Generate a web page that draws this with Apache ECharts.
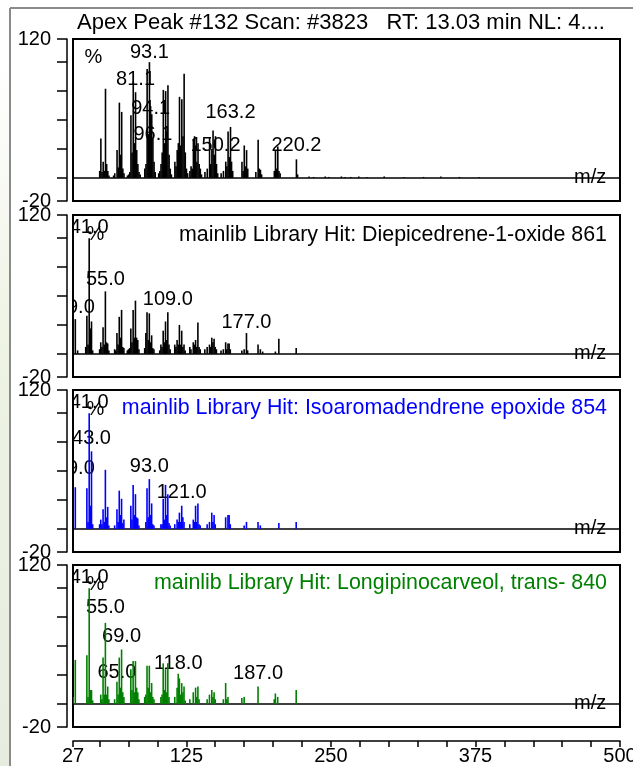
<!DOCTYPE html>
<html><head><meta charset="utf-8">
<script src="https://cdn.jsdelivr.net/npm/echarts@6/dist/echarts.min.js"></script>
<style>html,body{margin:0;padding:0;background:#fff}#c{width:633px;height:766px}</style>
</head><body><div id="c"></div>
<script>
// ---------- axis ticks ----------
const xTickValues = [27,50,75,100,125,150,175,200,225,250,275,300,325,350,375,400,425,450,475,500];
const xLabelValues = [27,125,250,375,500];
const yTickValues = [-20,0,25,50,75,100,120];
const yLabelValues = [-20,120];

// ---------- titles ----------
const mainTitle = 'Apex Peak #132 Scan: #3823   RT: 13.03 min NL: 4....';
const hitTitles = [
  'mainlib Library Hit: Diepicedrene-1-oxide 861',
  'mainlib Library Hit: Isoaromadendrene epoxide 854',
  'mainlib Library Hit: Longipinocarveol, trans- 840'
];

// ---------- panel 1: measured scan ----------
const scanMz = [50.1,51.1,52.1,53.1,54.1,55.1,56.1,57.1,58.1,
  62.1,63.1,65.1,66.1,67.1,68.1,69.1,70.1,71.1,
  74.1,75.1,76.1,77.1,78.1,79.1,80.1,81.1,82.1,83.1,84.1,85.1,
  89.1,90.1,91.1,92.1,93.1,94.1,95.1,96.1,97.1,98.1,
  101.1,102.1,103.1,104.1,105.1,106.1,107.1,108.1,109.1,110.1,111.1,112.1,
  115.1,116.1,117.1,118.1,119.1,120.1,121.1,122.1,123.1,124.1,125.1,126.1,
  128.1,129.1,130.1,131.1,132.1,133.1,134.1,135.1,136.1,137.1,138.1,
  141.1,143.1,145.1,146.1,147.1,148.1,149.1,150.2,151.1,152.1,
  155.1,157.1,159.1,160.1,161.1,162.1,163.2,164.1,165.1,
  173.1,174.1,175.1,176.1,177.1,178.1,
  185.1,187.1,188.1,189.1,190.1,
  201.1,202.1,203.1,204.1,205.1,206.1,
  220.2,221.2,
  231.1,235.1,245.1,248.1,259.1,262.1,267.1,274.1,281.1,296.1,313.1,330.1,345.1,361.1,378.1];
const scanInt = [6,34,5,14,6,77,12,6,2,
  2,4,24,9,65,20,57,8,4,
  2,3,5,54,22,83,30,74,24,12,5,3,
  8,12,94,38,100,62,55,34,14,5,
  4,6,12,22,76,30,75,40,80,20,8,3,
  14,10,24,30,70,28,68,36,90,22,8,4,
  6,10,8,33,36,28,14,30,12,8,3,
  5,8,35,12,25,41,20,36,12,4,
  4,6,14,10,40,18,44,14,6,
  14,6,28,10,24,8,
  5,33,8,7,3,
  6,24,8,27,6,4,
  16,3,
  1.2,0.8,1.2,0.8,1.2,0.8,0.8,1.2,0.8,1.2,0.8,0.8,1.2,0.8,0.8];
const scanLabelMz = [93.1, 81.1, 94.1, 96.1, 150.2, 163.2, 220.2];

// ---------- panel 2: Diepicedrene-1-oxide ----------
const hit1Mz = [29,31,38,39,40,41,42,43,44,50,51,52,53,54,55,56,57,58,63,64,65,66,67,68,69,70,71,
  74,75,76,77,78,79,80,81,82,83,84,89,90,91,92,93,94,95,96,97,
  102,103,104,105,106,107,108,109,110,111,115,116,117,118,119,120,121,122,123,124,
  128,129,131,132,133,134,135,136,137,141,143,145,146,147,148,149,150,151,
  155,157,159,160,161,162,163,173,175,177,178,187,189,191,202,205,220];
const hit1Int = [30,3,6,33,8,100,22,28,3,4,10,6,23,8,54,10,9,3,4,3,18,8,32,14,38,6,5,
  3,4,5,22,10,38,14,46,14,12,4,5,18,36,12,35,10,16,5,4,
  3,8,6,20,10,28,12,36,8,4,8,6,12,8,25,8,20,6,8,3,
  6,4,10,8,12,6,27,6,4,4,6,8,6,14,10,13,6,4,
  3,4,10,4,9,9,4,3,4,18,3,8,4,2,2,13,5];
const hit1LabelMz = [41.0, 55.0, 29.0, 109.0, 177.0];

// ---------- panel 3: Isoaromadendrene epoxide ----------
const hit2Mz = [29,39,40,41,42,43,44,50,51,52,53,54,55,56,57,58,63,65,66,67,68,69,70,71,
  77,78,79,80,81,82,83,84,90,91,92,93,94,95,96,97,
  103,104,105,106,107,108,109,110,111,115,117,118,119,120,121,122,123,
  128,131,132,133,134,135,136,137,143,145,147,148,149,150,159,161,162,163,
  175,177,187,189,205,220];
const hit2Int = [36,35,6,100,20,67,4,4,8,4,17,6,51,10,19,3,3,17,6,33,12,26,5,8,
  20,8,38,12,30,10,9,3,6,35,10,43,12,22,4,3,
  4,4,26,8,38,12,30,5,3,4,8,6,14,6,20,10,6,
  4,8,6,20,6,22,4,3,4,6,14,6,12,4,10,12,12,4,
  3,6,6,3,5,6];
const hit2LabelMz = [41.0, 43.0, 29.0, 93.0, 121.0];

// ---------- panel 4: Longipinocarveol, trans- ----------
const hit3Mz = [27,29,39,40,41,42,43,44,51,52,53,54,55,56,57,58,63,65,66,67,68,69,70,71,
  77,78,79,80,81,82,83,84,89,90,91,92,93,94,95,96,97,
  103,104,105,106,107,108,109,110,115,117,118,119,120,121,122,123,124,
  128,131,133,134,135,136,143,145,147,148,149,150,157,159,160,161,
  173,175,187,201,202,204,220];
const hit3Int = [6,38,42,6,100,12,12,3,8,4,40,8,70,8,15,4,4,19,8,40,14,47,10,6,
  30,12,37,10,37,14,10,4,6,8,33,14,33,10,18,6,4,
  6,8,35,12,30,10,35,6,6,14,26,22,8,18,10,15,3,
  4,10,14,6,15,4,4,8,12,6,10,4,4,18,4,6,
  5,6,15,4,9,6,12];
const hit3LabelMz = [41.0, 55.0, 69.0, 65.0, 118.0, 187.0];

// ---------- layout (positions / styles) ----------
const FONT = '"Liberation Sans", Arial, Helvetica, sans-serif';
const gridTops = [39, 215, 390, 565];
const gridH = 162;
const gridLeft = 73, gridRight = 13;
const colors = ['#000000', '#000000', '#0000ff', '#008000'];
// height (axis units) of the text baseline of each peak label
const labelLevels = [
  [102, 79, 54, 31, 22, 50, 22],
  [103, 58, 34, 41, 21],
  [103, 72, 46, 48, 25],
  [103, 77, 52, 21, 29, 20]
];
const hitTitleY = [235, 408, 583];
const pctPos = [[93.5, 57], [95.5, 234], [95.5, 409], [95.5, 584]];

const spectra = [[scanMz, scanInt], [hit1Mz, hit1Int], [hit2Mz, hit2Int], [hit3Mz, hit3Int]];
const labelMzs = [scanLabelMz, hit1LabelMz, hit2LabelMz, hit3LabelMz];

const grids = [], xAxes = [], yAxes = [], series = [];
for (let i = 0; i < 4; i++) {
  grids.push({left: gridLeft, right: gridRight, top: gridTops[i], height: gridH,
    containLabel: false, outerBoundsMode: 'none',
    show: true, borderColor: '#000', borderWidth: 2, backgroundColor: 'transparent'});
  xAxes.push({type: 'value', gridIndex: i, min: 27, max: 500,
    axisLine: {show: true, onZero: true, lineStyle: {color: '#000', width: 1.5}},
    axisTick: {show: false}, axisLabel: {show: false}, splitLine: {show: false},
    name: 'm/z', nameLocation: 'end', nameGap: -46,
    nameTextStyle: {color: '#000', fontSize: 20, fontFamily: FONT, verticalAlign: 'middle', padding: [8, 0, 0, 0]}});
  yAxes.push({type: 'value', gridIndex: i, min: -20, max: 120, offset: 6,
    axisLine: {show: true, lineStyle: {color: '#000', width: 1.5}},
    axisTick: {show: true, inside: false, length: 10, customValues: yTickValues, lineStyle: {color: '#000', width: 1.5}},
    axisLabel: {show: true, customValues: yLabelValues, margin: 16, color: '#000', fontSize: 20, fontFamily: FONT},
    splitLine: {show: false}});
  const [mzArr, intArr] = spectra[i];
  const col = colors[i];
  series.push({type: 'custom', xAxisIndex: i, yAxisIndex: i, clip: true, z: 3, silent: true,
    data: mzArr.map((m, k) => [m, intArr[k]]),
    renderItem: (params, api) => {
      const p0 = api.coord([api.value(0), 0]);
      const p1 = api.coord([api.value(0), api.value(1)]);
      return {type: 'line', shape: {x1: p0[0], y1: p0[1], x2: p1[0], y2: p1[1]},
        style: {stroke: col, lineWidth: 1.6}};
    }});
  const lv = labelLevels[i];
  series.push({type: 'custom', xAxisIndex: i, yAxisIndex: i, clip: true, z: 2, silent: true,
    data: labelMzs[i].map((m, k) => [m, lv[k]]),
    renderItem: (params, api) => {
      const p = api.coord([api.value(0), api.value(1)]);
      return {type: 'text', x: p[0], y: p[1] - 7.2,
        style: {text: Number(api.value(0)).toFixed(1), fill: '#000', font: '20px ' + FONT,
          align: 'center', verticalAlign: 'middle'}};
    }});
}
// bottom m/z scale
xAxes.push({type: 'value', gridIndex: 3, min: 27, max: 500, position: 'bottom', offset: 14,
  axisLine: {show: true, onZero: false, lineStyle: {color: '#000', width: 1.5}},
  axisTick: {show: true, inside: false, length: 6, customValues: xTickValues, lineStyle: {color: '#000', width: 1.5}},
  axisLabel: {show: true, customValues: xLabelValues, margin: 5, color: '#000', fontSize: 20, fontFamily: FONT},
  splitLine: {show: false}});

const graphic = [
  {type: 'rect', left: 0, top: 60, shape: {width: 10, height: 706}, silent: true,
    style: {fill: new echarts.graphic.LinearGradient(0, 0, 0, 1, [{offset: 0, color: '#ffffff'}, {offset: 0.4, color: '#eef3e4'}, {offset: 1, color: '#e6ece0'}])}},
  {type: 'line', shape: {x1: 10, y1: 8, x2: 633, y2: 8}, style: {stroke: '#8a8a8a', lineWidth: 2}, silent: true},
  {type: 'line', shape: {x1: 10, y1: 8, x2: 10, y2: 766}, style: {stroke: '#8a8a8a', lineWidth: 2}, silent: true},
  {type: 'text', x: 77, y: 22.5, silent: true,
    style: {text: mainTitle, fill: '#000', font: '22px ' + FONT, align: 'left', verticalAlign: 'middle'}}
];
for (let i = 0; i < 3; i++) {
  graphic.push({type: 'text', x: 607, y: hitTitleY[i], silent: true, z: 10,
    style: {text: hitTitles[i], fill: colors[i + 1], font: '21.4px ' + FONT, align: 'right', verticalAlign: 'middle'}});
}
for (let i = 0; i < 4; i++) {
  graphic.push({type: 'text', x: pctPos[i][0], y: pctPos[i][1], silent: true, z: 10,
    style: {text: '%', fill: '#000', font: '20px ' + FONT, align: 'center', verticalAlign: 'middle'}});
}

const chart = echarts.init(document.getElementById('c'), null, {renderer: 'canvas'});
chart.setOption({
  animation: false,
  backgroundColor: '#ffffff',
  grid: grids, xAxis: xAxes, yAxis: yAxes, series: series, graphic: graphic
});
</script></body></html>
